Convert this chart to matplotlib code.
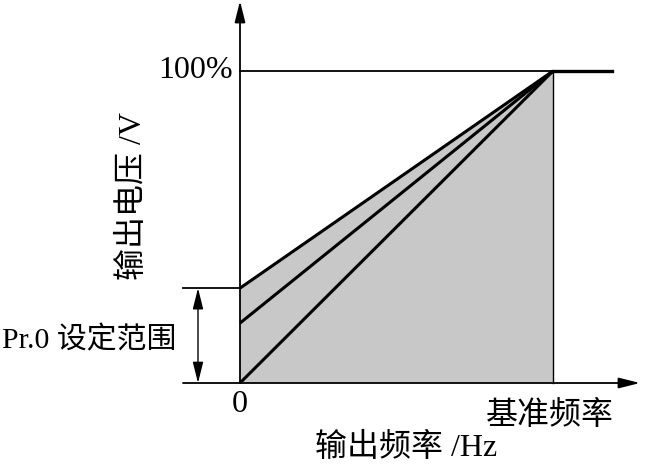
import numpy as np
import matplotlib.pyplot as plt

# --- data (output frequency as fraction of base frequency, voltage in %) ---
base_freq = 1.0
full_voltage = 100.0
start_voltages = [30.4, 19.2, 0.0]   # boost settings (Pr.0) at 0 Hz
f_max = 1.19                          # flat part after base frequency

plt.rcParams['font.family'] = ['Liberation Serif', 'Noto Sans CJK SC']

# pixel -> data helpers (origin at px (240, 383))
SX, SY = 313.0, 3.12
def fx(px):
    return (px - 240) / SX
def fy(py):
    return (383 - py) / SY

fig = plt.figure(figsize=(6.48, 4.66), dpi=100)
ax = fig.add_axes([0, 0, 1, 1])
ax.set_xlim(fx(0), fx(648))
ax.set_ylim(fy(466), fy(0))
ax.axis('off')

# grey region under the highest boost line
top = max(start_voltages)
ax.fill([0, 0, base_freq, base_freq], [0, top, full_voltage, 0],
        color='#c8c8c8', lw=0, zorder=1)
ax.plot([base_freq, base_freq], [0, full_voltage], color='black', lw=1.0, zorder=2)

# V/f lines
for v0 in start_voltages:
    ax.plot([0, base_freq], [v0, full_voltage], color='black', lw=2.2,
            solid_capstyle='butt', zorder=3)

# 100% reference line and flat region
ax.plot([0, base_freq], [full_voltage, full_voltage], color='black', lw=1.3, zorder=3)
ax.plot([base_freq, f_max], [full_voltage, full_voltage], color='black', lw=2.4, zorder=3)

# axes with arrows
arrow = dict(arrowstyle='-|>,head_length=0.8,head_width=0.2', color='black', lw=1.3,
             mutation_scale=16, shrinkA=0, shrinkB=0)
ax.annotate('', xy=(fx(640), 0), xytext=(fx(183), 0), arrowprops=arrow)
ax.annotate('', xy=(0, fy(1)), xytext=(0, 0), arrowprops=arrow)

# Pr.0 range marker
ax.plot([fx(183), 0], [top, top], color='black', lw=1.3)
ax.annotate('', xy=(fx(198), top), xytext=(fx(198), 0),
            arrowprops=dict(arrowstyle='<|-|>,head_length=0.8,head_width=0.2',
                            color='black', lw=1.0,
                            mutation_scale=16, shrinkA=0, shrinkB=0))

fs = 23
ax.text(fx(233), full_voltage, '100%', fontsize=fs, ha='right', va='center')
ax.text(0, fy(405), '0', fontsize=fs, ha='center', va='center')
ax.text(fx(550), fy(416), '基准频率', fontsize=fs, ha='center', va='center')
ax.text(fx(406), fy(448), '输出频率 /Hz', fontsize=fs, ha='center', va='center')
ax.text(fx(133), fy(196), '输出电压 /V', fontsize=fs, ha='center', va='center',
        rotation=90)
ax.text(fx(2), fy(340), 'Pr.0 设定范围', fontsize=21.5, ha='left', va='center')

fig.savefig('out.png', dpi=100)
